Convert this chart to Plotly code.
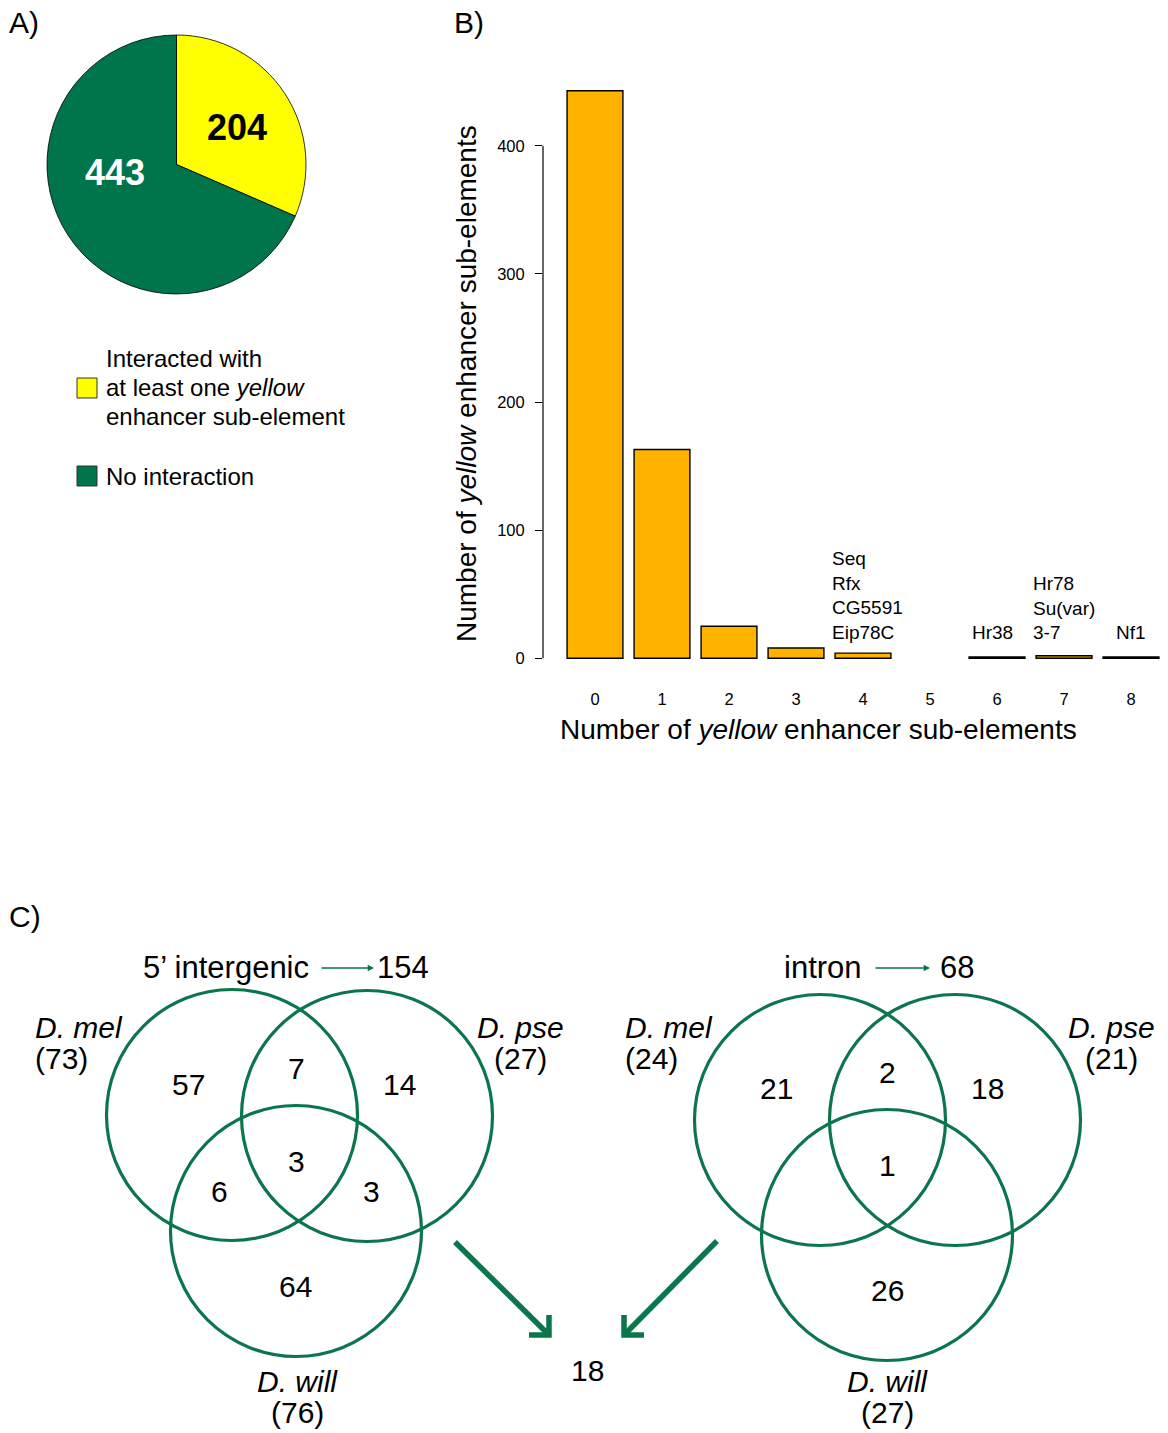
import plotly.graph_objects as go

W, H = 1168, 1433
FONT = "Liberation Sans, Arial, sans-serif"
GREEN = "#00744A"
YELLOW = "#FFFF00"
ORANGE = "#FFB300"
VGREEN = "#0B764B"

# ---------------- data ----------------
# Panel A
pie_labels = ["Interacted with at least one yellow enhancer sub-element", "No interaction"]
pie_values = [204, 443]
pie_colors = [YELLOW, GREEN]

# Panel B
bar_categories = [0, 1, 2, 3, 4, 5, 6, 7, 8]
bar_counts = [443, 163, 25, 8, 4, 0, 1, 2, 1]
bar_gene_labels = ["", "", "", "", "Seq<br>Rfx<br>CG5591<br>Eip78C", "", "Hr38",
                   "Hr78<br>Su(var)<br>3-7", "Nf1"]
y_ticks = [0, 100, 200, 300, 400]

# Panel C
venn_species = ["D. mel", "D. pse", "D. will"]
intergenic_species_totals = [73, 27, 76]
intron_species_totals = [24, 21, 27]
# regions: mel only, mel&pse, pse only, all three, mel&will, pse&will, will only
intergenic_region_counts = [57, 7, 14, 3, 6, 3, 64]
intron_region_counts = [21, 2, 18, 1, None, None, 26]
intergenic_total = 154
intron_total = 68
combined_total = 18

# label placement style (not data)
bar_label_style = {4: ("left", -0.5), 6: ("center", -0.07), 7: ("left", -0.5), 8: ("center", 0.0)}


def px(x):
    return x / W


def py(y):
    return 1 - y / H


fig = go.Figure()
annotations = []
shapes = []


def ann(x, y, text, size=30, color="black", xanchor="center", yanchor="middle", ref="paper", **kw):
    if ref == "paper":
        x, y = px(x), py(y)
    d = dict(x=x, y=y, xref=ref if ref == "paper" else "x", yref=ref if ref == "paper" else "y",
             text=text, showarrow=False, xanchor=xanchor, yanchor=yanchor,
             font=dict(size=size, color=color, family=FONT))
    d.update(kw)
    annotations.append(d)


# ---------------- Panel A: pie ----------------
fig.add_trace(go.Pie(
    labels=pie_labels, values=pie_values, sort=False, direction="clockwise",
    rotation=0, textinfo="none", hoverinfo="label+value",
    marker=dict(colors=pie_colors, line=dict(color="black", width=0.8)),
    domain=dict(x=[px(47), px(306)], y=[py(294), py(35)]),
    showlegend=False,
))
ann(237, 127, f"<b>{pie_values[0]}</b>", size=36, color="black")
ann(115, 172, f"<b>{pie_values[1]}</b>", size=36, color="white")

# legend A
for (y0, col) in [(378, YELLOW), (466, GREEN)]:
    shapes.append(dict(type="rect", xref="paper", yref="paper", x0=px(77), x1=px(97), y0=py(y0 + 20), y1=py(y0),
                       fillcolor=col, line=dict(color="#333333", width=1)))
leg_lines = [("Interacted with", 358), ("at least one <i>yellow</i>", 387), ("enhancer sub-element", 416),
             ("No interaction", 476)]
for t, yy in leg_lines:
    ann(104, yy, t, size=24, xanchor="left")

# ---------------- Panel B: bars ----------------
fig.add_trace(go.Bar(
    x=bar_categories, y=bar_counts, width=1 / 1.2,
    marker=dict(color=ORANGE, line=dict(color="black", width=[1.4 if v > 0 else 0 for v in bar_counts])),
    showlegend=False, xaxis="x", yaxis="y",
))
for cat, lab in zip(bar_categories, bar_gene_labels):
    if not lab:
        continue
    al, off = bar_label_style[cat]
    ann(cat + off, 10, lab, size=19, xanchor=al, yanchor="bottom", ref="data", align=al)

# y axis line from 0 to 400 only
shapes.append(dict(type="line", xref="x domain", yref="y", x0=0, x1=0, y0=y_ticks[0], y1=y_ticks[-1],
                   line=dict(color="black", width=1.2)))

ann(466, 384, "Number of <i>yellow</i> enhancer sub-elements", size=28, textangle=-90)
ann(818, 729, "Number of <i>yellow</i> enhancer sub-elements", size=28)

# panel letters
for t, xx, yy in [("A)", 7, 22), ("B)", 452, 22), ("C)", 7, 917)]:
    ann(xx, yy, t, size=30, xanchor="left")

# ---------------- Panel C: Venn diagrams ----------------
R = 125.5


def venn(centers, region_pos, region_counts, name_pos, totals, title, title_pos, arrow_x, total, total_x):
    for cx, cy in centers:
        shapes.append(dict(type="circle", xref="paper", yref="paper", x0=px(cx - R), x1=px(cx + R),
                           y0=py(cy + R), y1=py(cy - R), line=dict(color=VGREEN, width=3.2)))
    for (xx, yy), c in zip(region_pos, region_counts):
        if c is None:
            continue
        ann(xx, yy, str(c))
    for (nx, ny, anchor), name, tot in zip(name_pos, venn_species, totals):
        ann(nx, ny, f"<i>{name}</i>", xanchor=anchor)
        ann(nx, ny + 31, f"({tot})", xanchor=anchor)
    ann(title_pos[0], title_pos[1], title, size=31)
    annotations.append(dict(x=px(arrow_x[1]), y=py(968), xref="paper", yref="paper", text="",
                            showarrow=True, ax=-(arrow_x[1] - arrow_x[0]), ay=0, arrowhead=2, arrowsize=0.9,
                            arrowwidth=1.4, arrowcolor=VGREEN))
    ann(total_x, 967, str(total), size=31)


venn(centers=[(232, 1115), (367, 1116), (296, 1231)],
     region_pos=[(188, 1084), (296, 1068), (399, 1084), (296, 1161), (219, 1191), (371, 1191), (295, 1286)],
     region_counts=intergenic_region_counts,
     name_pos=[(33, 1027, "left"), (520, 1027, "center"), (297, 1381, "center")],
     totals=intergenic_species_totals, title="5’ intergenic", title_pos=(226, 967),
     arrow_x=(320, 374), total=intergenic_total, total_x=403)

venn(centers=[(820, 1120), (955, 1120), (887, 1235)],
     region_pos=[(776, 1088), (887, 1072), (987, 1088), (887, 1165), (812, 1195), (962, 1195), (887, 1290)],
     region_counts=intron_region_counts,
     name_pos=[(623, 1027, "left"), (1111, 1027, "center"), (887, 1381, "center")],
     totals=intron_species_totals, title="intron", title_pos=(823, 967),
     arrow_x=(874, 930), total=intron_total, total_x=957)

# thick arrows to combined total
for path in ["M 455 1242 L 547 1333", "M 529 1335 L 549 1335 L 549 1315",
             "M 717 1241 L 626 1333", "M 644 1335 L 624 1335 L 624 1315"]:
    pts = path.split(" ")
    out = []
    i = 0
    while i < len(pts):
        cmd = pts[i]
        x = float(pts[i + 1]); y = float(pts[i + 2])
        out.append(f"{cmd} {px(x):.5f} {py(y):.5f}")
        i += 3
    shapes.append(dict(type="path", xref="paper", yref="paper", path=" ".join(out),
                       line=dict(color=VGREEN, width=5.5)))
ann(587, 1370, str(combined_total))

fig.update_layout(
    width=W, height=H, margin=dict(l=0, r=0, t=0, b=0),
    paper_bgcolor="white", plot_bgcolor="white",
    font=dict(family=FONT, color="black"),
    xaxis=dict(domain=[px(543), 1.0], range=[-0.776, 8.552], tickvals=bar_categories,
               ticktext=[str(c) for c in bar_categories], showline=False, showgrid=False, zeroline=False,
               ticks="", tickfont=dict(size=16.5, family=FONT, color="black"), ticklabelstandoff=6),
    yaxis=dict(domain=[py(681), py(68)], range=[-17.72, 460.72], tickvals=y_ticks, showline=False,
               showgrid=False, zeroline=False, ticks="outside", ticklen=7, tickcolor="black", tickwidth=1.2,
               tickfont=dict(size=16.5, family=FONT, color="black"), ticklabelstandoff=7),
    annotations=annotations, shapes=shapes,
)

fig.write_html("out.html", config={"displayModeBar": False},
               post_script="document.body.style.margin='0px';")
